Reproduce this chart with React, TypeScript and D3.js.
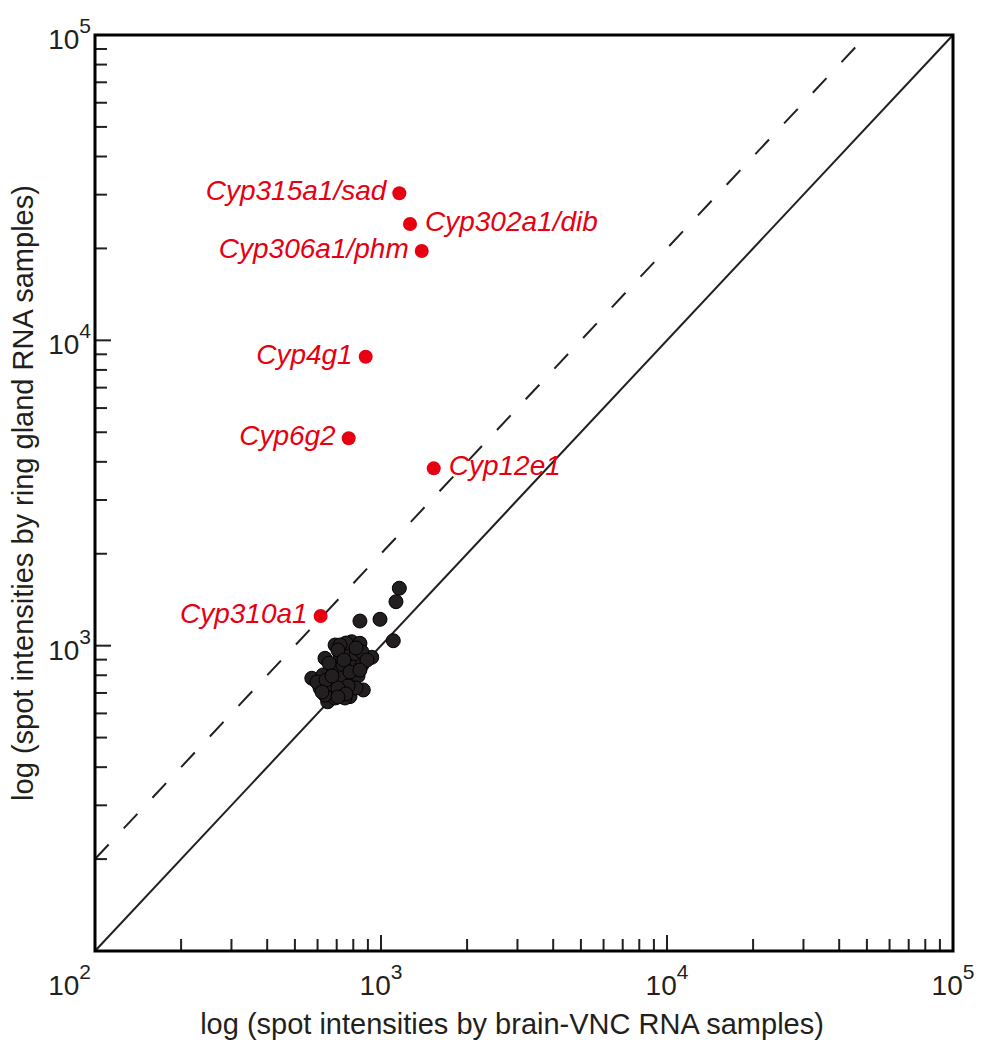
import * as d3 from "d3";

// red, labelled Cyp genes
const genes = ["Cyp315a1/sad", "Cyp302a1/dib", "Cyp306a1/phm", "Cyp4g1", "Cyp6g2", "Cyp12e1", "Cyp310a1"];
const geneBrain = [1159, 1263, 1388, 884, 771, 1529, 615];
const geneRing = [30310, 24040, 19620, 8840, 4777, 3809, 1251];
const labelRight = ["Cyp302a1/dib", "Cyp12e1"];

// black, unlabelled spots
const brainVals = [
  1159, 1128, 992, 844, 1104, 928, 867, 651, 573, 637, 691, 790, 844, 779,
  719, 767, 818, 858, 680, 736, 798, 858, 627, 680, 736, 798, 612, 663, 719,
  748, 691, 831, 754, 719, 893, 597, 658, 818, 637,
  707, 818, 663, 767, 707, 642, 742, 779, 844, 674, 754, 707, 622,
];
const ringVals = [
  1542, 1393, 1220, 1204, 1038, 916, 716, 655, 782, 909, 1005, 1030, 1018, 681,
  932, 968, 932, 954, 845, 865, 851, 865, 802, 772, 784, 772, 727, 716, 716,
  674, 674, 796, 1020, 1005, 897, 760, 877, 727, 689,
  968, 983, 749, 738, 727, 772, 897, 820, 832, 796, 695, 679, 705,
];

const domain = [100, 100000];
const exps = [2, 3, 4, 5];

const W = 984;
const H = 1046;
const m = { left: 95, right: 31, top: 35, bottom: 95 };
const ink = "#231f20";
const red = "#e60012";
const font = "'Liberation Sans', Arial, sans-serif";

export default function App() {
  const x = d3.scaleLog().domain(domain).range([m.left, W - m.right]);
  const y = d3.scaleLog().domain(domain).range([H - m.bottom, m.top]);
  const ticks = x.ticks();
  const isMajor = (t: number) => Math.abs(Math.log10(t) - Math.round(Math.log10(t))) < 1e-9;

  const x0 = m.left, x1 = W - m.right, y0 = H - m.bottom, y1 = m.top;

  // y = 2x dashed line, clipped to the plot
  const dashStart = 100;
  const dashEnd = domain[1] / 2;

  return (
    <svg width={W} height={H} style={{ position: "absolute", left: 0, top: 0, background: "#fff" }} fontFamily={font}>
      <defs>
        <clipPath id="plot">
          <rect x={x0} y={y1} width={x1 - x0} height={y0 - y1} />
        </clipPath>
      </defs>

      {/* diagonals */}
      <line x1={x(100)} y1={y(100)} x2={x(100000)} y2={y(100000)} stroke={ink} strokeWidth={2} />
      <line
        x1={x(dashStart)} y1={y(dashStart * 2)} x2={x(dashEnd)} y2={y(dashEnd * 2)}
        stroke={ink} strokeWidth={2} strokeDasharray="20 22" clipPath="url(#plot)"
      />

      {/* ticks */}
      {ticks.map((t, i) => {
        const len = isMajor(t) ? 16 : 12;
        return (
          <g key={i} stroke={ink} strokeWidth={2}>
            <line x1={x(t)} x2={x(t)} y1={y0} y2={y0 - len} />
            <line x1={x0} x2={x0 + len} y1={y(t)} y2={y(t)} />
          </g>
        );
      })}

      {/* frame */}
      <rect x={x0} y={y1} width={x1 - x0} height={y0 - y1} fill="none" stroke="#000" strokeWidth={3} />

      {/* x tick labels */}
      {exps.map((e) => (
        <text
          key={"x" + e}
          x={e === 2 ? x0 - 4 : x(Math.pow(10, e))}
          y={y0 + 44}
          textAnchor={e === 2 ? "end" : "middle"}
          fontSize={28}
          fill={ink}
        >
          10<tspan dy={-16} fontSize={21}>{e}</tspan>
        </text>
      ))}
      {/* y tick labels */}
      {exps.filter((e) => e > 2).map((e) => (
        <text key={"y" + e} x={x0 - 4} y={y(Math.pow(10, e)) + 14} textAnchor="end" fontSize={28} fill={ink}>
          10<tspan dy={-16} fontSize={21}>{e}</tspan>
        </text>
      ))}

      {/* axis titles */}
      <text x={512} y={1034} textAnchor="middle" fontSize={29} fill={ink}>
        log (spot intensities by brain-VNC RNA samples)
      </text>
      <text transform={`translate(33, ${(y0 + y1) / 2}) rotate(-90)`} textAnchor="middle" fontSize={29} fill={ink}>
        log (spot intensities by ring gland RNA samples)
      </text>

      {/* black spots */}
      {brainVals.map((b, i) => (
        <circle key={"b" + i} cx={x(b)} cy={y(ringVals[i])} r={7} fill={ink} stroke="#000" strokeWidth={1} />
      ))}

      {/* red genes */}
      {genes.map((g, i) => {
        const right = labelRight.includes(g);
        const cx = x(geneBrain[i]);
        const cy = y(geneRing[i]);
        return (
          <g key={g}>
            <circle cx={cx} cy={cy} r={7} fill={red} />
            <text
              x={right ? cx + 15 : cx - 13}
              y={cy + 7}
              textAnchor={right ? "start" : "end"}
              fontSize={28}
              fontStyle="italic"
              fill={red}
            >
              {g}
            </text>
          </g>
        );
      })}
    </svg>
  );
}
